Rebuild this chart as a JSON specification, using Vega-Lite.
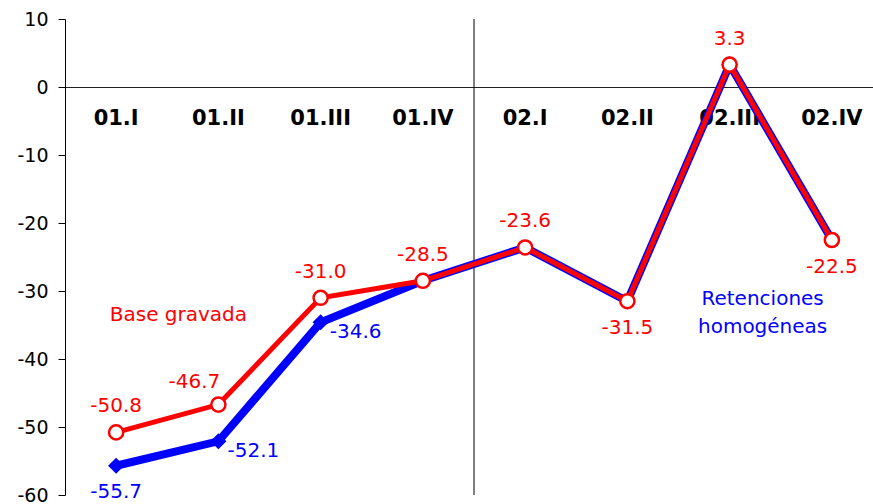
{
  "$schema": "https://vega.github.io/schema/vega-lite/v6.json",
  "width": 818,
  "height": 476,
  "autosize": "none",
  "padding": {"left": 65, "top": 19, "right": 0, "bottom": 9},
  "background": "white",
  "config": {
    "view": {"stroke": null},
    "font": "DejaVu Sans",
    "text": {"font": "DejaVu Sans"}
  },
  "datasets": {
    "pts": [
      {"period": "01.I", "series": "Base gravada", "value": -50.8},
      {"period": "01.II", "series": "Base gravada", "value": -46.7},
      {"period": "01.III", "series": "Base gravada", "value": -31.0},
      {"period": "01.IV", "series": "Base gravada", "value": -28.5},
      {"period": "02.I", "series": "Base gravada", "value": -23.6},
      {"period": "02.II", "series": "Base gravada", "value": -31.5},
      {"period": "02.III", "series": "Base gravada", "value": 3.3},
      {"period": "02.IV", "series": "Base gravada", "value": -22.5},
      {"period": "01.I", "series": "Retenciones", "value": -55.7},
      {"period": "01.II", "series": "Retenciones", "value": -52.1},
      {"period": "01.III", "series": "Retenciones", "value": -34.6},
      {"period": "01.IV", "series": "Retenciones", "value": -28.5},
      {"period": "02.I", "series": "Retenciones", "value": -23.6},
      {"period": "02.II", "series": "Retenciones", "value": -31.5},
      {"period": "02.III", "series": "Retenciones", "value": 3.3},
      {"period": "02.IV", "series": "Retenciones", "value": -22.5}
    ]
  },
  "data": {"name": "pts"},
  "transform": [
    {"calculate": "replace(format(datum.value, '.1f'), '\u2212', '-')", "as": "lbl"}
  ],
  "encoding": {
    "x": {
      "field": "period",
      "type": "nominal",
      "sort": ["01.I", "01.II", "01.III", "01.IV", "02.I", "02.II", "02.III", "02.IV"],
      "scale": {"type": "band", "paddingInner": 0, "paddingOuter": 0},
      "axis": {
        "title": null,
        "orient": "bottom",
        "offset": -408,
        "ticks": false,
        "labelAngle": 0,
        "labelFont": "DejaVu Sans",
        "labelFontWeight": "bold",
        "labelFontSize": 21,
        "labelColor": "black",
        "labelPadding": 20,
        "domainColor": "#222",
        "domainWidth": 1.2,
        "grid": false
      }
    },
    "y": {
      "field": "value",
      "type": "quantitative",
      "scale": {"domain": [-60, 10], "nice": false, "zero": false},
      "axis": {
        "title": null,
        "values": [-60, -50, -40, -30, -20, -10, 0, 10],
        "labelExpr": "replace(datum.label, '\u2212', '-')",
        "grid": false,
        "tickSize": 7,
        "tickColor": "black",
        "domainColor": "black",
        "labelFont": "DejaVu Sans",
        "labelFontSize": 19,
        "labelColor": "black",
        "labelPadding": 10
      }
    }
  },
  "layer": [
    {
      "data": {"values": [{"period": "02.I"}]},
      "transform": [],
      "mark": {"type": "rule", "color": "black", "strokeWidth": 1},
      "encoding": {
        "x": {"field": "period", "type": "nominal", "bandPosition": 0},
        "y": null
      }
    },
    {
      "transform": [{"filter": "datum.series == 'Retenciones'"}],
      "mark": {"type": "line", "color": "#0000ff", "strokeWidth": 8}
    },
    {
      "transform": [{"filter": "datum.series == 'Base gravada'"}],
      "mark": {"type": "line", "color": "#ff0000", "strokeWidth": 5}
    },
    {
      "transform": [{"filter": "datum.series == 'Retenciones'"}],
      "mark": {"type": "point", "shape": "diamond", "filled": true, "color": "#0000ff", "size": 260, "opacity": 1}
    },
    {
      "transform": [{"filter": "datum.series == 'Base gravada'"}],
      "mark": {"type": "point", "shape": "circle", "filled": true, "fill": "white", "stroke": "#ff0000", "strokeWidth": 2.5, "size": 200, "opacity": 1}
    },
    {
      "transform": [{"filter": "datum.series == 'Base gravada' && indexof(['01.I','01.III','01.IV','02.I','02.III'], datum.period) >= 0"}],
      "mark": {"type": "text", "color": "#ff0000", "fontSize": 20, "dy": -26},
      "encoding": {"text": {"field": "lbl"}}
    },
    {
      "transform": [{"filter": "datum.series == 'Base gravada' && datum.period == '01.II'"}],
      "mark": {"type": "text", "color": "#ff0000", "fontSize": 20, "dy": -23, "dx": -24},
      "encoding": {"text": {"field": "lbl"}}
    },
    {
      "transform": [{"filter": "datum.series == 'Base gravada' && indexof(['02.II','02.IV'], datum.period) >= 0"}],
      "mark": {"type": "text", "color": "#ff0000", "fontSize": 20, "dy": 27},
      "encoding": {"text": {"field": "lbl"}}
    },
    {
      "transform": [{"filter": "datum.series == 'Retenciones' && datum.period == '01.I'"}],
      "mark": {"type": "text", "color": "#0000ff", "fontSize": 20, "dy": 26},
      "encoding": {"text": {"field": "lbl"}}
    },
    {
      "transform": [{"filter": "datum.series == 'Retenciones' && indexof(['01.II','01.III'], datum.period) >= 0"}],
      "mark": {"type": "text", "color": "#0000ff", "fontSize": 20, "dy": 10, "dx": 35},
      "encoding": {"text": {"field": "lbl"}}
    },
    {
      "data": {"values": [{"period": "01.II", "value": -33.5, "label": "Base gravada"}]},
      "transform": [],
      "mark": {"type": "text", "color": "#ff0000", "fontSize": 20, "dx": -40},
      "encoding": {"text": {"field": "label"}}
    },
    {
      "data": {"values": [{"period": "02.III", "value": -33.3, "label": "Retenciones\nhomogéneas"}]},
      "transform": [],
      "mark": {"type": "text", "color": "#0000ff", "fontSize": 20, "dx": 33, "dy": -14, "lineBreak": "\n", "lineHeight": 28, "baseline": "middle"},
      "encoding": {"text": {"field": "label"}}
    }
  ]
}
